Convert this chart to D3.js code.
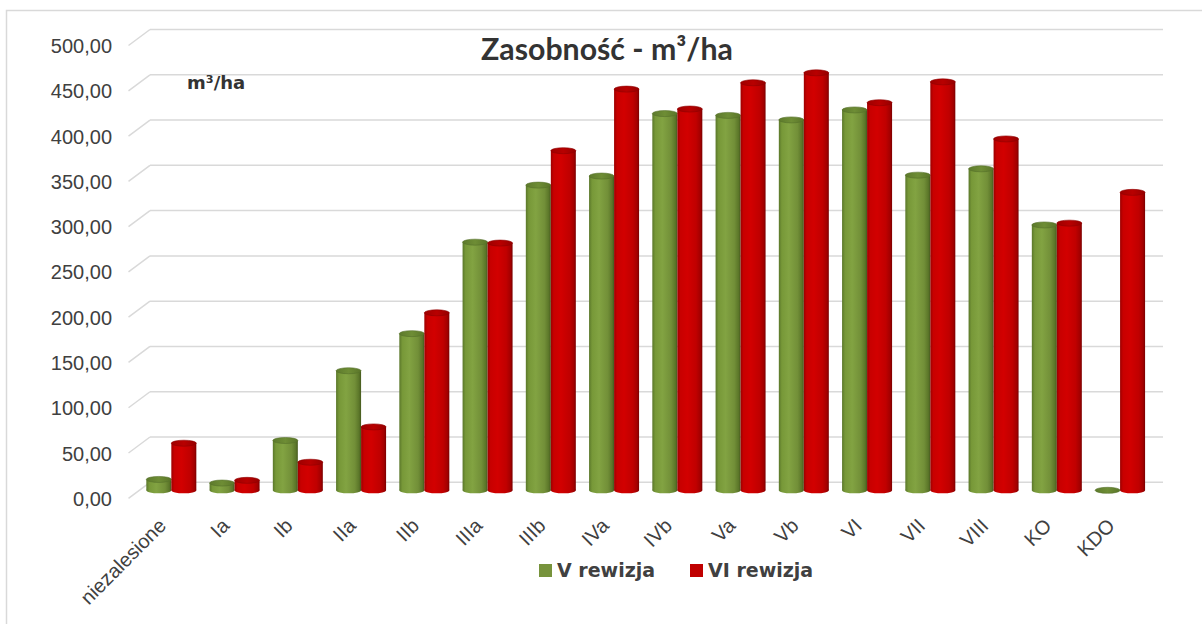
<!DOCTYPE html>
<html><head><meta charset="utf-8">
<script src="https://cdn.jsdelivr.net/npm/d3@7"></script>
<style>
html,body{margin:0;padding:0;background:#fff;}
svg{display:block;}
</style></head>
<body>
<svg id="chart" width="1202" height="624"></svg>
<script>
// ---- data ----
const categories = ["niezalesione","Ia","Ib","IIa","IIb","IIIa","IIIb","IVa","IVb","Va","Vb","VI","VII","VIII","KO","KDO"];
const seriesNames = ["V rewizja","VI rewizja"];
const vRewizja  = [12, 8, 55, 132, 173, 274, 337, 347, 416, 414, 409, 420, 348, 355, 293, 0];
const viRewizja = [52, 11, 31, 70, 196, 273, 375, 443, 421, 450, 461, 428, 451, 388, 295, 329];
const yTicks = [0,50,100,150,200,250,300,350,400,450,500];
const titleText = "Zasobność - m³/ha";
const unitText = "m³/ha";

const svg = d3.select("#chart");
const W = 1202, H = 624;
svg.append("rect").attr("width",W).attr("height",H).attr("fill","#fff");
// outer frame
svg.append("rect").attr("x",6.5).attr("y",10.5).attr("width",1210).attr("height",640)
  .attr("fill","none").attr("stroke","#d9d9d9").attr("stroke-width",1.5);

const depth = 8; // half depth offset
const y = d3.scaleLinear().domain([0,500]).range([490.3, 37.5]);
const x = d3.scaleBand().domain(categories).range([139.7, 1151.7]).padding(0);
const bw = x.bandwidth();
const barW = 25;
const xs = d3.scaleBand().domain(seriesNames).range([bw/2 - barW, bw/2 + barW]).padding(0);

const defs = svg.append("defs");
function grad(id, stops){
  const g = defs.append("linearGradient").attr("id",id).attr("x1","0%").attr("x2","100%").attr("y1","0%").attr("y2","0%");
  stops.forEach(s=>g.append("stop").attr("offset",s[0]).attr("stop-color",s[1]));
}
grad("gGreen",[["0%","#5a772a"],["12%","#779838"],["40%","#82a342"],["75%","#728f38"],["92%","#5b7629"],["100%","#46591e"]]);
grad("gRed",[["0%","#9c0000"],["12%","#c80000"],["40%","#d20000"],["75%","#c00000"],["92%","#a30000"],["100%","#7a0000"]]);
grad("tGreen",[["0%","#5d7a2c"],["50%","#6e8d35"],["100%","#5a7529"]]);
grad("tRed",[["0%","#9e0000"],["50%","#b80000"],["100%","#960000"]]);

// gridlines (back wall + side diagonal)
const grid = svg.append("g");
yTicks.forEach(t=>{
  const yb = y(t) - depth, yf = y(t) + depth;
  grid.append("line").attr("x1",150).attr("x2",1163).attr("y1",yb).attr("y2",yb)
    .attr("stroke","#d9d9d9").attr("stroke-width",1.5);
  grid.append("line").attr("x1",128.5).attr("x2",150).attr("y1",yf).attr("y2",yb)
    .attr("stroke","#d9d9d9").attr("stroke-width",1.5);
});

// y axis labels
const loc = d3.formatLocale({decimal:",", thousands:" ", grouping:[3], currency:["",""]});
const fmt = loc.format(".2f");
const yLab = d3.scaleLinear().domain([0,500]).range([490.3+depth, 37.5+depth]);
const yAxis = svg.append("g").attr("transform","translate(112,0)")
  .call(d3.axisLeft(yLab).tickValues(yTicks).tickFormat(fmt).tickSize(0).tickPadding(0));
yAxis.select(".domain").remove();
yAxis.selectAll("text").attr("font-family","'Liberation Sans', Arial, sans-serif")
  .attr("font-size",20).attr("fill","#404040").attr("dy","0.35em");

// bars (cylinders)
const rx = barW/2, ry = 3;
const series = [
  {name:seriesNames[0], values:vRewizja, body:"url(#gGreen)", top:"url(#tGreen)", rim:"#56712a"},
  {name:seriesNames[1], values:viRewizja, body:"url(#gRed)", top:"url(#tRed)", rim:"#8e0000"}
];
const bars = svg.append("g");
categories.forEach((c,i)=>{
  series.forEach(s=>{
    const v = s.values[i];
    const cxp = x(c) + xs(s.name) + barW/2;
    const yt = y(v), yb = y(0);
    const g = bars.append("g");
    if (v > 0) {
      g.append("ellipse").attr("cx",cxp).attr("cy",yb).attr("rx",rx).attr("ry",ry).attr("fill",s.body);
      g.append("rect").attr("x",cxp-rx).attr("y",yt).attr("width",barW).attr("height",yb-yt).attr("fill",s.body);
    }
    g.append("ellipse").attr("cx",cxp).attr("cy",yt).attr("rx",rx).attr("ry",ry)
      .attr("fill",s.top).attr("stroke",s.rim).attr("stroke-width",0.6);
  });
});

// x labels
const xl = svg.append("g");
categories.forEach(c=>{
  const ax = x(c) + bw/2 - 4, ay = 527;
  xl.append("text").attr("transform",`translate(${ax},${ay}) rotate(-45)`)
    .attr("text-anchor","end").attr("font-family","'Liberation Sans', Arial, sans-serif")
    .attr("font-size",20).attr("fill","#404040").text(c);
});

// title
const title = svg.append("text").attr("x",607).attr("y",60).attr("text-anchor","middle")
  .attr("font-family","Lato, 'Open Sans', sans-serif").attr("font-weight","bold")
  .attr("font-size",28).attr("fill","#333").text(titleText);
const tw = title.node().getComputedTextLength();
title.attr("font-size", 28*252/tw);

// unit label
svg.append("text").attr("x",187).attr("y",89).attr("font-family","'DejaVu Sans', sans-serif")
  .attr("font-weight","bold").attr("font-size",18).attr("fill","#333").text(unitText);

// legend
const leg = svg.append("g");
const legX = [539, 690];
series.forEach((s,i)=>{
  leg.append("rect").attr("x",legX[i]).attr("y",564).attr("width",13).attr("height",13)
    .attr("fill", i===0 ? "#77933c" : "#c00000");
  leg.append("text").attr("x",legX[i]+18).attr("y",577).attr("font-family","'DejaVu Sans', sans-serif")
    .attr("font-weight","bold").attr("font-size",19).attr("fill","#404040").text(s.name);
});
</script>
</body></html>
